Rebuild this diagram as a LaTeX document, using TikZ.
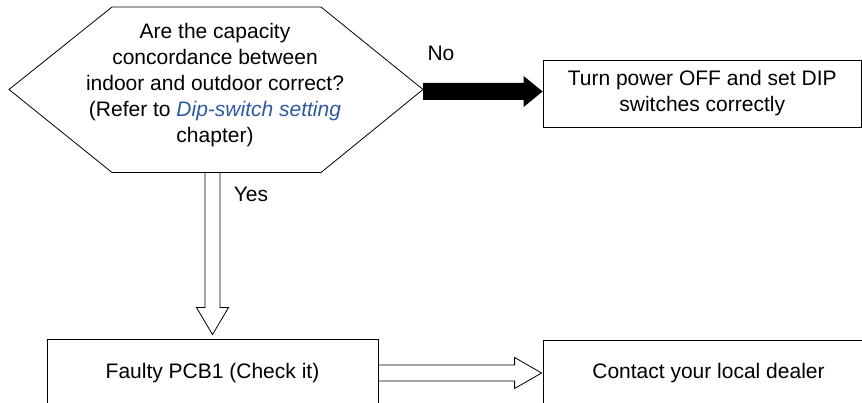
\documentclass[tikz,border=0pt]{standalone}
\usepackage{fontspec}
\setmainfont{Liberation Sans}
\usetikzlibrary{calc}
\definecolor{linkblue}{RGB}{46,89,165}
\begin{document}
\begin{tikzpicture}[x=1pt,y=-1pt,
  line width=0.8pt,
  every node/.style={font=\fontsize{21}{26}\selectfont, inner sep=0pt},
  box/.style={draw, rectangle, align=center},
  hollowarrow/.style={draw, fill=white, line join=miter},
  solidarrow/.style={fill=black},
  tag/.style={}
]
\useasboundingbox (0,0) rectangle (862,403);
\clip (0,0) rectangle (862,403);

% decision hexagon
\coordinate (hl)  at (9,89.5);
\coordinate (htl) at (112,7);
\coordinate (htr) at (321,7);
\coordinate (hr)  at (423,89.5);
\coordinate (hbr) at (321,172.5);
\coordinate (hbl) at (112,172.5);
\draw (hl) -- (htl) -- (htr) -- (hr) -- (hbr) -- (hbl) -- cycle;
\node[align=center] (q) at (215,85)
  {Are the capacity\\concordance between\\indoor and outdoor correct?\\(Refer to \textcolor{linkblue}{\itshape Dip-switch setting}\\chapter)};

% action boxes
\node[box, minimum width=318.4pt, minimum height=67pt] (b1) at (702.2,93.5)
  {Turn power OFF and set DIP\\switches correctly};
\node[box, minimum width=331pt, minimum height=68pt] (b2) at (212.5,373)
  {Faulty PCB1 (Check it)};
\node[box, minimum width=331pt, minimum height=66pt] (b3) at (708.5,373)
  {Contact your local dealer};

% "No" branch: solid block arrow
\coordinate (ns) at ($(hr)+(0,2)$);
\coordinate (ne) at (b1.west |- ns);
\fill[solidarrow] ($(ns)+(0,-8.5)$) -- ($(ne)+(-19,-8.5)$) -- ($(ne)+(-19,-15.5)$) -- (ne)
  -- ($(ne)+(-19,15.5)$) -- ($(ne)+(-19,8.5)$) -- ($(ns)+(0,8.5)$) -- cycle;
\node[tag] (no) at (441,53) {No};

% "Yes" branch: hollow block arrow down
\coordinate (ys) at (b2.north |- hbl);
\coordinate (ye) at ($(b2.north)+(0,-4)$);
\draw[hollowarrow] ($(ys)+(-7.5,0)$) -- ($(ye)+(-7.5,-27)$) -- ($(ye)+(-16,-27)$) -- (ye)
  -- ($(ye)+(16,-27)$) -- ($(ye)+(7.5,-27)$) -- ($(ys)+(7.5,0)$) -- cycle;
\node[tag] (yes) at (251,194.5) {Yes};

% hollow block arrow to the dealer box
\coordinate (fs) at (b2.east);
\coordinate (fe) at ($(b3.west)+(-1,0)$);
\draw[hollowarrow] ($(fs)+(0,-8)$) -- ($(fe)+(-27,-8)$) -- ($(fe)+(-27,-15.5)$) -- (fe)
  -- ($(fe)+(-27,15.5)$) -- ($(fe)+(-27,8)$) -- ($(fs)+(0,8)$) -- cycle;
\end{tikzpicture}
\end{document}
